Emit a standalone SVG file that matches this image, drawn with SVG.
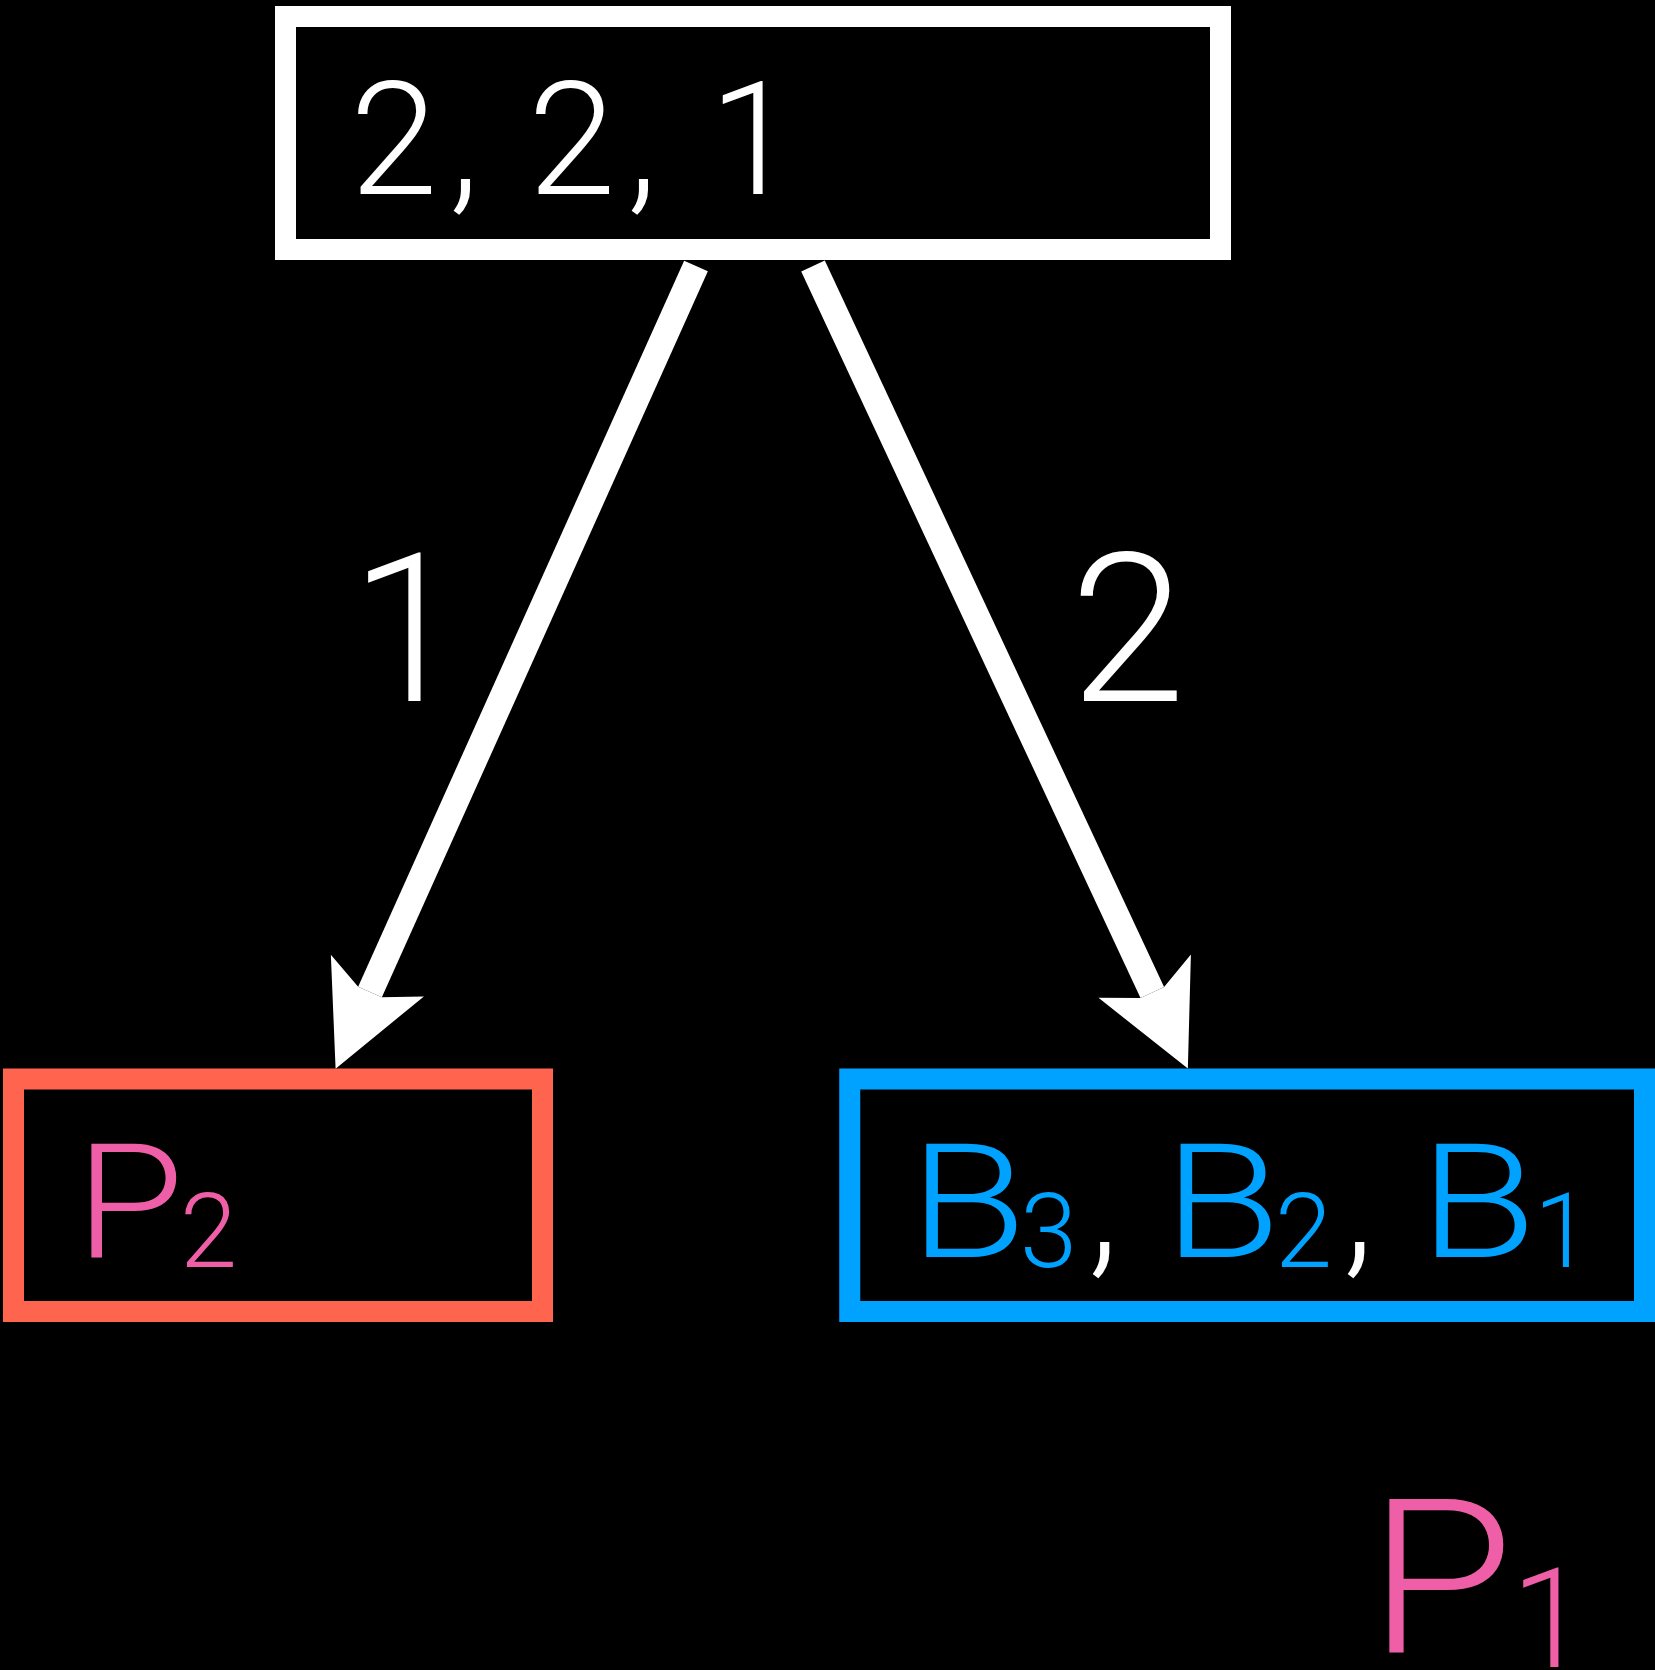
<svg xmlns="http://www.w3.org/2000/svg" width="1655" height="1670" viewBox="0 0 1655 1670">
  <style>
    .box { fill: #000; stroke-width: 21; }
    .t { font-family: Roboto, "Liberation Sans", Arial, sans-serif; font-weight: 300; }
    .white { fill: #fff; }
    .pink { fill: #EF5FA7; }
    .blue { fill: #00A2FF; }
    .edge { stroke: #fff; stroke-width: 26; fill: none; }
  </style>
  <defs>
    <marker id="head" markerUnits="userSpaceOnUse" viewBox="-20 -60 120 120" markerWidth="120" markerHeight="120" refX="0" refY="0" orient="auto">
      <polygon points="84,0 -18,-51 0,-13 0,13 -18,51" fill="#fff"/>
    </marker>
  </defs>
  <rect x="0" y="0" width="1655" height="1670" fill="#000"/>

  <g id="connectors">
    <line class="edge" x1="696" y1="266" x2="370" y2="992" marker-end="url(#head)"/>
    <line class="edge" x1="813" y1="266" x2="1152.3" y2="992.5" marker-end="url(#head)"/>
    <text class="t white" x="350" y="701" font-size="208">1</text>
    <text class="t white" x="1070" y="701" font-size="208">2</text>
  </g>

  <g id="node-root">
    <rect class="box" x="285.5" y="16.5" width="935" height="233" stroke="#fff"/>
    <text class="t white" font-size="158"><tspan x="350" y="194">2</tspan><tspan x="449" y="194">,</tspan><tspan x="528" y="194">2</tspan><tspan x="627" y="194">,</tspan><tspan x="709" y="194">1</tspan></text>
  </g>

  <g id="node-p2">
    <rect class="box" x="13.5" y="1079" width="529" height="232.5" stroke="#FF644E"/>
    <text class="t pink" font-size="160" transform="translate(75.5 1257) scale(1.1 1)">P</text>
    <text class="t pink" x="180" y="1267" font-size="103">2</text>
  </g>

  <g id="node-b">
    <rect class="box" x="849.75" y="1079" width="794.75" height="232.5" stroke="#00A2FF"/>
    <text class="t blue" font-size="160" transform="translate(909 1257) scale(1.2 1)">B</text>
    <text class="t blue" x="1020" y="1267" font-size="103">3</text>
    <text class="t white" x="1088" y="1257" font-size="160">,</text>
    <text class="t blue" font-size="160" transform="translate(1163.3 1257) scale(1.2 1)">B</text>
    <text class="t blue" x="1275" y="1267" font-size="103">2</text>
    <text class="t white" x="1343" y="1257" font-size="160">,</text>
    <text class="t blue" font-size="160" transform="translate(1419 1257) scale(1.2 1)">B</text>
    <text class="t blue" x="1534" y="1267" font-size="103">1</text>
  </g>

  <g id="label-p1">
    <text class="t pink" font-size="215" transform="translate(1368 1652) scale(1.1 1)">P</text>
    <text class="t pink" x="1511" y="1667" font-size="140">1</text>
  </g>
</svg>
